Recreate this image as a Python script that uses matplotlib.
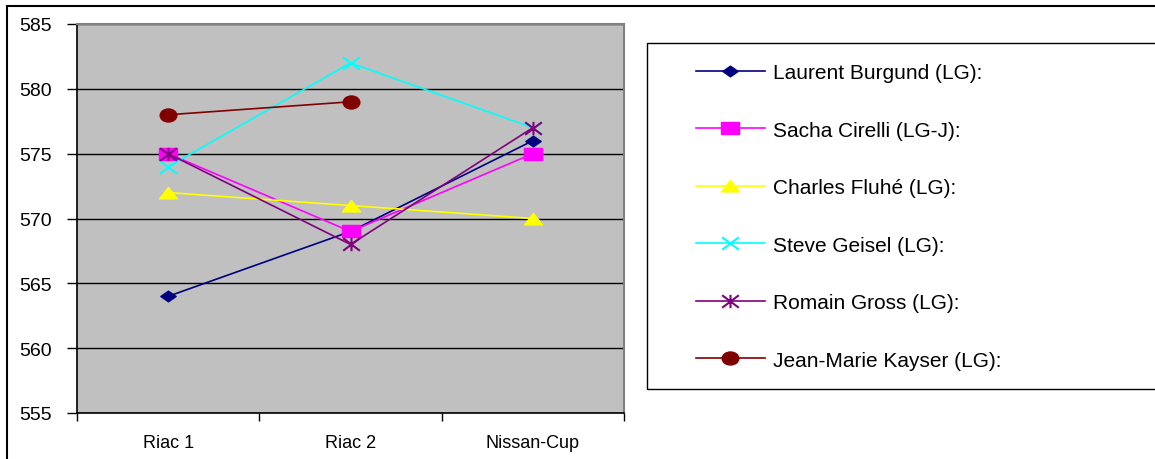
"""Punktzahlen pro Wettkampf - Liniendiagramm"""

import matplotlib
matplotlib.use('Agg')
import matplotlib.pyplot as plt
import numpy as np
from matplotlib.path import Path
from matplotlib.patches import Rectangle

plt.rcParams['font.family'] = ['Liberation Sans', 'DejaVu Sans']

# Daten
wettkaempfe = ['Riac 1', 'Riac 2', 'Nissan-Cup']
namen = [
    'Laurent Burgund (LG):',
    'Sacha Cirelli (LG-J):',
    'Charles Fluhé (LG):',
    'Steve Geisel (LG):',
    'Romain Gross (LG):',
    'Jean-Marie Kayser (LG):',
]
burgund = [564, 569, 576]
cirelli = [575, 569, 575]
fluhe = [572, 571, 570]
geisel = [574, 582, 577]
gross = [575, 568, 577]
kayser = [578, 579, np.nan]
y_ticks = [555, 560, 565, 570, 575, 580, 585]

# Excel-Marker sind etwas in die Breite gezogen
M, L, C = Path.MOVETO, Path.LINETO, Path.CLOSEPOLY
raute = Path([(-1, 0), (0, 0.7), (1, 0), (0, -0.7), (-1, 0)], [M, L, L, L, C])
quadrat = Path([(-1, -0.67), (1, -0.67), (1, 0.67), (-1, 0.67), (-1, -0.67)], [M, L, L, L, C])
dreieck = Path([(-1, -0.6), (1, -0.6), (0, 0.67), (-1, -0.6)], [M, L, L, C])
kreuz = Path([(-1, -0.75), (1, 0.75), (-1, 0.75), (1, -0.75)], [M, L, M, L])
stern = Path([(-1, -0.75), (1, 0.75), (-1, 0.75), (1, -0.75), (0, -0.8), (0, 0.8)],
             [M, L, M, L, M, L])
kreis = Path.unit_circle()
ellipse = Path(kreis.vertices * [1, 0.78], kreis.codes)

stile = [
    dict(color='#000080', marker=raute, ms=11),
    dict(color='#FF00FF', marker=quadrat, ms=13),
    dict(color='#FFFF00', marker=dreieck, ms=13),
    dict(color='#00FFFF', marker=kreuz, ms=12, mew=1.5),
    dict(color='#800080', marker=stern, ms=12, mew=1.5),
    dict(color='#800000', marker=ellipse, ms=12),
]
reihen = [burgund, cirelli, fluhe, geisel, gross, kayser]

W, H = 1155, 460
fig = plt.figure(figsize=(W / 100, H / 100), dpi=100)

# äußerer Rahmen
fig.patches.append(Rectangle((7 / W, -0.5), 2, 1.5 - 7 / H, transform=fig.transFigure,
                             fill=False, edgecolor='black', linewidth=1.5))

ax = fig.add_axes([77 / W, 1 - 414 / H, (624 - 77) / W, (414 - 25) / H])
ax.set_facecolor('#C0C0C0')

x = np.arange(len(wettkaempfe))
linien = []
for werte, stil, name in zip(reihen, stile, namen):
    l, = ax.plot(x, werte, linewidth=1.2, label=name, **stil)
    linien.append(l)

ax.set_xlim(-0.5, 2.5)
ax.set_ylim(555, 585)
ax.set_yticks(y_ticks)
ax.set_yticklabels([str(v) for v in y_ticks], fontsize=14)
ax.yaxis.grid(True, color='black', linewidth=1)
ax.set_axisbelow(True)

ax.set_xticks(x)
ax.set_xticklabels(wettkaempfe, fontsize=13)
ax.set_xticks([-0.5, 0.5, 1.5, 2.5], minor=True)
ax.tick_params(axis='x', which='major', length=0, pad=15)
ax.tick_params(axis='x', which='minor', length=6, width=1, direction='out')
ax.tick_params(axis='y', length=7, width=1, direction='out', pad=11)

for s in ['left', 'bottom']:
    ax.spines[s].set_color('black')
    ax.spines[s].set_linewidth(1.2)
for s in ['top', 'right']:
    ax.spines[s].set_color('#808080')
    ax.spines[s].set_linewidth(1.5)

# Legende
fig.patches.append(Rectangle((647 / W, 1 - 390 / H), 1.0, (390 - 44) / H,
                             transform=fig.transFigure, fill=False,
                             edgecolor='black', linewidth=1))
fig.legend(handles=linien, loc='upper left', bbox_to_anchor=(696 / W, 1 - 64 / H),
           frameon=False, fontsize=15, handlelength=3.3, handletextpad=0.4,
           labelspacing=1.85, borderpad=0, borderaxespad=0)

fig.savefig('out.png', dpi=100)
